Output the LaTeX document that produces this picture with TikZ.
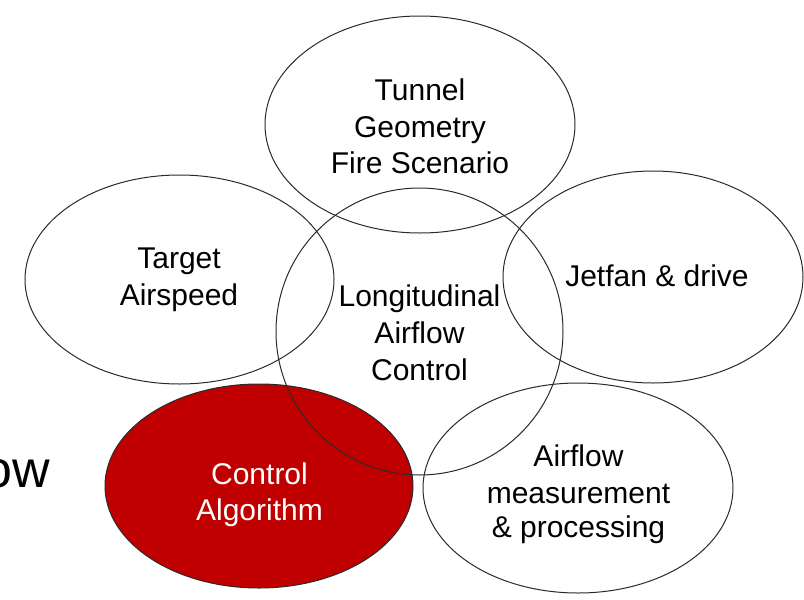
\documentclass[tikz,border=0pt]{standalone}
\usepackage{fontspec}
\setmainfont{Liberation Sans}
\usetikzlibrary{shapes.geometric}
\definecolor{algred}{HTML}{C00000}
\definecolor{edgegray}{HTML}{2A2A2A}
\begin{document}
\begin{tikzpicture}[x=1pt,y=-1pt,
  oval/.style={draw=edgegray,line width=1pt,ellipse,inner sep=0pt},
  lbl/.style={anchor=base,inner sep=0pt,font=\fontsize{30}{37}\selectfont},
  wlbl/.style={lbl,text=white}]
\useasboundingbox (0,0) rectangle (804,600);
% filled ellipse first
\node[oval,fill=algred,minimum width=308pt,minimum height=204pt] (alg) at (259,486) {};
% outlines
\node[oval,minimum width=310pt,minimum height=217pt] (tun) at (420,124.5) {};
\node[oval,minimum width=309pt,minimum height=209pt] (tgt) at (179.5,279.5) {};
\node[oval,minimum width=300pt,minimum height=212pt] (jet) at (653,277) {};
\node[oval,minimum width=287pt,minimum height=287pt] (lac) at (419.5,331.5) {};
\node[oval,minimum width=310pt,minimum height=210pt] (afm) at (578,488) {};
% texts
\node[lbl] (tunA) at (420,100) {Tunnel};
\node[lbl] (tunB) at (420,137) {Geometry};
\node[lbl] (tunC) at (420,173) {Fire Scenario};
\node[lbl] (tgtA) at (179,268) {Target};
\node[lbl] (tgtB) at (179,305) {Airspeed};
\node[lbl] (jetA) at (657,286) {Jetfan \& drive};
\node[lbl] (lacA) at (419.5,306) {Longitudinal};
\node[lbl] (lacB) at (419.5,343) {Airflow};
\node[lbl] (lacC) at (419.5,380) {Control};
\node[wlbl] (algA) at (259.5,484) {Control};
\node[wlbl] (algB) at (259.5,520) {Algorithm};
\node[lbl] (afmA) at (578.5,466) {Airflow};
\node[lbl] (afmB) at (578.5,503) {measurement};
\node[lbl] (afmC) at (578.5,537) {\& processing};
\node[anchor=base east,inner sep=0pt,font=\fontsize{52}{60}\selectfont] (ow) at (50,487) {ow};
\end{tikzpicture}
\end{document}
